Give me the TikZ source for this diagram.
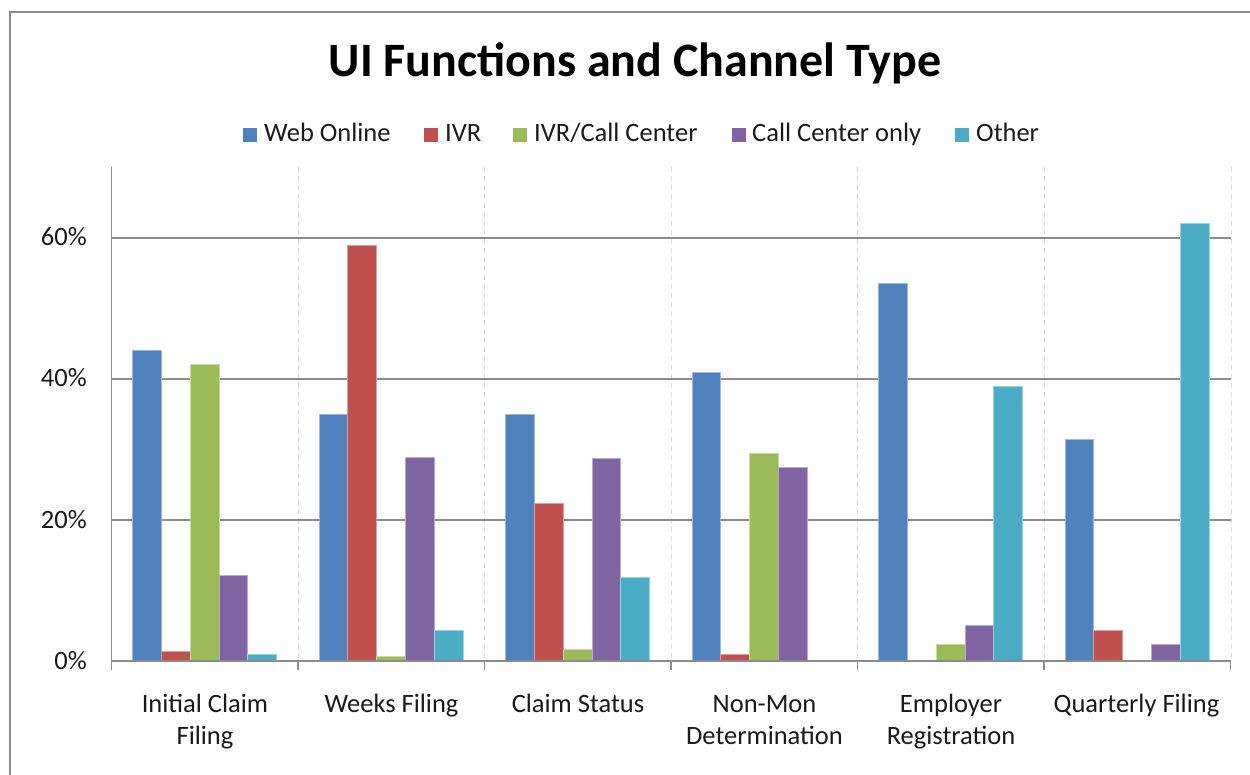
\documentclass[tikz,border=0pt]{standalone}
\usepackage{fontspec}
\setmainfont{Carlito}
\definecolor{cweb}{HTML}{4F81BD}
\definecolor{civr}{HTML}{C0504D}
\definecolor{civrcc}{HTML}{9BBB59}
\definecolor{ccc}{HTML}{8064A2}
\definecolor{cother}{HTML}{4BACC6}
\definecolor{axisgray}{HTML}{8C8C8C}
\definecolor{sepgray}{HTML}{D9D9D9}
\definecolor{framegray}{HTML}{8A8A8A}
\definecolor{txt}{HTML}{1A1A1A}
\begin{document}
\begin{tikzpicture}[x=1pt,y=-1pt,
  frameline/.style={draw=framegray,line width=1.6},
  gridline/.style={draw=axisgray,line width=1.2},
  sepline/.style={draw=sepgray,line width=1,dash pattern=on 5pt off 4pt},
  label/.style={font=\fontsize{26.5}{32}\selectfont,text=txt,inner sep=0pt},
  catlabel/.style={label,align=center,anchor=base},
  ylabel/.style={label,anchor=base east},
  legtext/.style={label,anchor=base west},
  legbox/.style={minimum size=14pt,inner sep=0pt,draw=none},
  barfill/.style={fill=#1,draw=#1!55!white,line width=0.8}
]
\useasboundingbox (0,0) rectangle (1250,775);
\fill[white] (0,0) rectangle (1250,775);
% chart frame (left and top edges)
\draw[frameline] (10,775) -- (10,12) -- (1250,12);

% title
\node[font=\fontsize{48}{56}\selectfont\bfseries,text=black,inner sep=0pt] (title) at (635,63) {UI Functions and Channel Type};

% legend
\node[legbox,fill=cweb] (k1) at (250,135) {};
\node[legtext] (l1) at (264,142) {Web Online};
\node[legbox,fill=civr] (k2) at (431,135) {};
\node[legtext] (l2) at (445,142) {IVR};
\node[legbox,fill=civrcc] (k3) at (520,135) {};
\node[legtext] (l3) at (534,142) {IVR/Call Center};
\node[legbox,fill=ccc] (k4) at (738.5,135) {};
\node[legtext] (l4) at (752,142) {Call Center only};
\node[legbox,fill=cother] (k5) at (962,135) {};
\node[legtext] (l5) at (976,142) {Other};

% category separators
\foreach \i in {1,...,5}
  \draw[sepline] ({111.5+186.5*\i},167) -- ({111.5+186.5*\i},661);
\draw[sepline] (1231,167) -- (1231,661);

% horizontal gridlines
\foreach \v in {20,40,60}
  \draw[gridline] (111.5,{661-7.05*\v}) -- (1231,{661-7.05*\v});

% bars: one series at a time, #2 = position within the group
\newcommand\barseries[3]{%
  \foreach \v [count=\i from 0] in {#3} {
    \ifdim \v pt>0pt
      \filldraw[barfill=#1] ({111.5+186.5*\i+21+28.8*#2},661) rectangle ++(28.8,{-7.05*\v});
    \fi
  }}
\barseries{cweb}{0}{44,35,35,40.9,53.5,31.5}
\barseries{civr}{1}{1.4,59,22.4,1.0,0,4.3}
\barseries{civrcc}{2}{42,0.7,1.6,29.5,2.4,0}
\barseries{ccc}{3}{12.1,28.9,28.8,27.5,5.0,2.3}
\barseries{cother}{4}{1.0,4.3,11.9,0,39,62}

% axes and ticks
\draw[gridline] (111.5,167) -- (111.5,670);
\draw[gridline] (111.5,661) -- (1231,661);
\foreach \i in {1,...,6}
  \draw[gridline] ({111.5+186.5*\i},661) -- ({111.5+186.5*\i},670);

% y-axis labels
\node[ylabel] (y0) at (87,669) {0\%};
\node[ylabel] (y20) at (87,528) {20\%};
\node[ylabel] (y40) at (87,387) {40\%};
\node[ylabel] (y60) at (87,246) {60\%};

% category labels (base anchor sits on the last line)
\node[catlabel] (c1) at (205,744) {Initial Claim\\Filing};
\node[catlabel] (c2) at (391.5,712) {Weeks Filing};
\node[catlabel] (c3) at (578,712) {Claim Status};
\node[catlabel] (c4) at (764.5,744) {Non-Mon\\Determination};
\node[catlabel] (c5) at (951,744) {Employer\\Registration};
\node[catlabel] (c6) at (1136.5,712) {Quarterly Filing};
\end{tikzpicture}
\end{document}
